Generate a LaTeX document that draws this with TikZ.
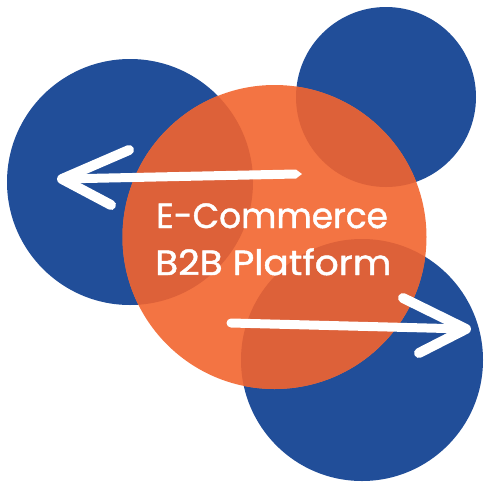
\documentclass[tikz,border=0pt]{standalone}
\usepackage{graphicx}
\usepackage{fontspec}
\newfontfamily\lblfont{Poppins}[FakeBold=1.3]
\definecolor{navy}{HTML}{214E99}
\definecolor{orng}{HTML}{F37443}
\definecolor{dorng}{HTML}{DD6139}
\begin{document}
\begin{tikzpicture}[x=1pt,y=-1pt,
  arrowline/.style={white,line width=10pt,line cap=round,line join=round},
  label/.style={white,anchor=base west,inner sep=0pt,font=\lblfont\fontsize{35}{40}\selectfont}]
\useasboundingbox (0,0) rectangle (490,490);
\fill[navy] (130,182) circle (123pt);
\fill[navy] (386,97) circle (90pt);
\fill[navy] (362,360) circle (121pt);
\fill[orng] (274.5,237) circle (152pt);
\begin{scope}
\clip (274.5,237) circle (152pt);
\fill[dorng] (130,182) circle (123pt);
\fill[dorng] (386,97) circle (90pt);
\fill[dorng] (362,360) circle (121pt);
\end{scope}
% left arrow
\coordinate (lt) at (62,179);
\coordinate (lu) at (129,150);
\coordinate (ld) at (111,205);
\coordinate (le) at (296,174);
\draw[arrowline] (lu) -- (lt) -- (ld);
\draw[white,line width=9pt,line cap=butt] (lt) -- (le);
\fill[white] (296,169.5) -- (302,174) -- (296,178.5) -- cycle;
% right arrow
\coordinate (rs) at (231,323);
\coordinate (rt) at (466,329);
\coordinate (ru) at (403,298);
\coordinate (rd) at (419,353);
\draw[white,line width=9pt,line cap=round] (rs) -- (rt);
\draw[arrowline] (ru) -- (rt) -- (rd);
% text
\node[label] (t1) at (156,228) {\scalebox{0.98}[1]{E-Commerce}};
\node[label] (t2) at (155,275) {\scalebox{1.07}[1]{B2B Platform}};
\end{tikzpicture}
\end{document}
